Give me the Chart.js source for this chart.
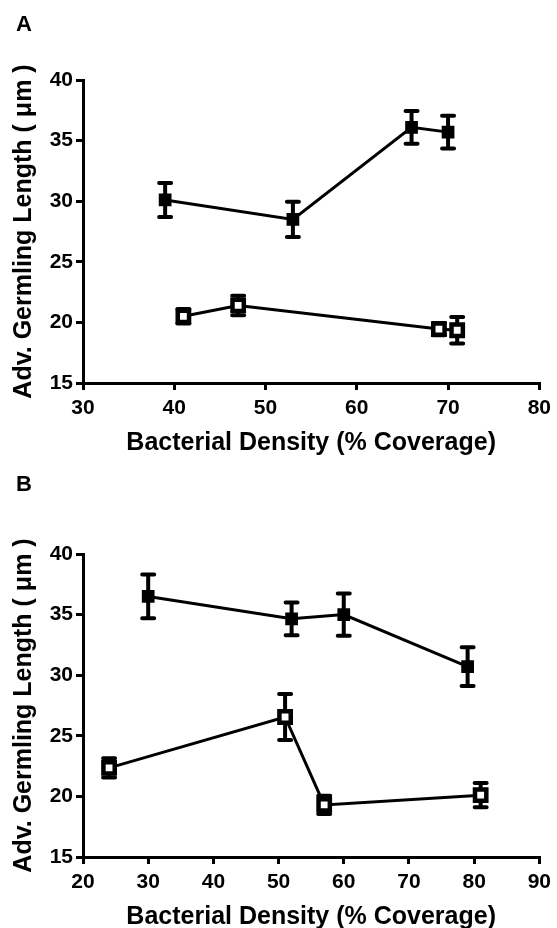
<!DOCTYPE html>
<html>
<head>
<meta charset="utf-8">
<script src="https://cdn.jsdelivr.net/npm/chart.js@4"></script>
<style>
    html, body { margin: 0; padding: 0; background: #fff; overflow: hidden; width: 557px; height: 928px; }
    canvas { position: absolute; left: 0; }
    #chartA { top: 0; }
    #chartB { top: 474px; }
</style>
</head>
<body>
<canvas id="chartA" width="557" height="464"></canvas>
<canvas id="chartB" width="557" height="464"></canvas>
<script>
// panel A
var densityA_filled = [39, 53, 66, 70];
var lengthA_filled = [30.1, 28.5, 36.1, 35.7];
var semA_filled = [1.4, 1.45, 1.35, 1.35];
var densityA_open = [41, 47, 69, 71];
var lengthA_open = [20.5, 21.4, 19.45, 19.35];
var semA_open = [0.6, 0.8, 0.5, 1.1];
var xTicksA = [30, 40, 50, 60, 70, 80];

// panel B
var densityB_filled = [30, 52, 60, 79];
var lengthB_filled = [36.5, 34.65, 35.0, 30.7];
var semB_filled = [1.8, 1.35, 1.75, 1.6];
var densityB_open = [24, 51, 57, 81];
var lengthB_open = [22.35, 26.55, 19.3, 20.1];
var semB_open = [0.8, 1.9, 0.75, 1.0];
var xTicksB = [20, 30, 40, 50, 60, 70, 80, 90];

var yTicks = [15, 20, 25, 30, 35, 40];

var FONT = "'Liberation Sans', Arial, sans-serif";

function toPoints(xs, ys, es) {
    return xs.map(function (x, i) { return {x: x, y: ys[i], err: es[i]}; });
}

// error bars + panel letter, placed through the chart scales
var errorBars = {
    id: 'errorBars',
    beforeDatasetsDraw: function (chart) {
        var ctx = chart.ctx;
        var xs = chart.scales.x, ys = chart.scales.y;
        ctx.save();
        ctx.strokeStyle = '#000';
        ctx.lineWidth = 4;
        ctx.lineCap = 'round';
        chart.data.datasets.forEach(function (ds) {
            ds.data.forEach(function (p) {
                var px = xs.getPixelForValue(p.x);
                var top = ys.getPixelForValue(p.y + p.err);
                var bot = ys.getPixelForValue(p.y - p.err);
                ctx.beginPath();
                ctx.moveTo(px, top); ctx.lineTo(px, bot);
                ctx.moveTo(px - 6, top); ctx.lineTo(px + 6, top);
                ctx.moveTo(px - 6, bot); ctx.lineTo(px + 6, bot);
                ctx.stroke();
            });
        });
        ctx.restore();
    },
    afterDraw: function (chart) {
        var o = chart.options.plugins.errorBars;
        var ctx = chart.ctx;
        ctx.save();
        ctx.fillStyle = '#000';
        ctx.font = 'bold 22px ' + FONT;
        ctx.textBaseline = 'middle';
        ctx.fillText(o.letter, 16, o.letterY);
        ctx.restore();
    }
};

function makeChart(id, letter, letterY, xMin, xMax, xTicks, filled, open) {
    var ctx = document.getElementById(id).getContext('2d');
    return new Chart(ctx, {
        type: 'scatter',
        data: {
            datasets: [{
                data: filled,
                showLine: true,
                borderColor: '#000',
                borderWidth: 3,
                backgroundColor: '#000',
                pointStyle: 'rect',
                pointRadius: 9,
                pointBorderWidth: 0,
                pointBackgroundColor: '#000'
            }, {
                data: open,
                showLine: true,
                borderColor: '#000',
                borderWidth: 3,
                backgroundColor: '#fff',
                pointStyle: 'rect',
                pointRadius: 8,
                pointBorderWidth: 4.5,
                pointBorderColor: '#000',
                pointBackgroundColor: '#fff'
            }]
        },
        options: {
            responsive: false,
            animation: false,
            layout: { padding: { top: 80, right: 15, left: 0, bottom: 0 } },
            plugins: {
                legend: { display: false },
                tooltip: { enabled: false },
                errorBars: { letter: letter, letterY: letterY }
            },
            scales: {
                x: {
                    type: 'linear',
                    min: xMin, max: xMax,
                    afterFit: function (s) { s.height = 81; },
                    afterBuildTicks: function (s) { s.ticks = xTicks.map(function (v) { return {value: v}; }); },
                    border: { display: true, color: '#000', width: 3 },
                    grid: { display: true, drawOnChartArea: false, drawTicks: true, tickLength: 7, color: '#000', lineWidth: 3 },
                    ticks: { color: '#000', padding: 6, font: { family: FONT, size: 21, weight: 'bold' } },
                    title: { display: true, text: 'Bacterial Density (% Coverage)', color: '#000',
                        padding: { top: 0, bottom: 6 }, font: { family: FONT, size: 25, weight: 'bold' } }
                },
                y: {
                    type: 'linear',
                    min: 15, max: 40,
                    afterFit: function (s) { s.width = 83; },
                    afterBuildTicks: function (s) { s.ticks = yTicks.map(function (v) { return {value: v}; }); },
                    border: { display: true, color: '#000', width: 3 },
                    grid: { display: true, drawOnChartArea: false, drawTicks: true, tickLength: 7, color: '#000', lineWidth: 3 },
                    ticks: { color: '#000', padding: 3, font: { family: FONT, size: 21, weight: 'bold' } },
                    title: { display: true, text: 'Adv. Germling Length ( \u03bcm )', color: '#000',
                        padding: { top: 9, bottom: 0 }, font: { family: FONT, size: 25, weight: 'bold' } }
                }
            }
        },
        plugins: [errorBars]
    });
}

makeChart('chartA', 'A', 25, 30, 80, xTicksA,
    toPoints(densityA_filled, lengthA_filled, semA_filled),
    toPoints(densityA_open, lengthA_open, semA_open));
makeChart('chartB', 'B', 11, 20, 90, xTicksB,
    toPoints(densityB_filled, lengthB_filled, semB_filled),
    toPoints(densityB_open, lengthB_open, semB_open));
</script>
</body>
</html>
